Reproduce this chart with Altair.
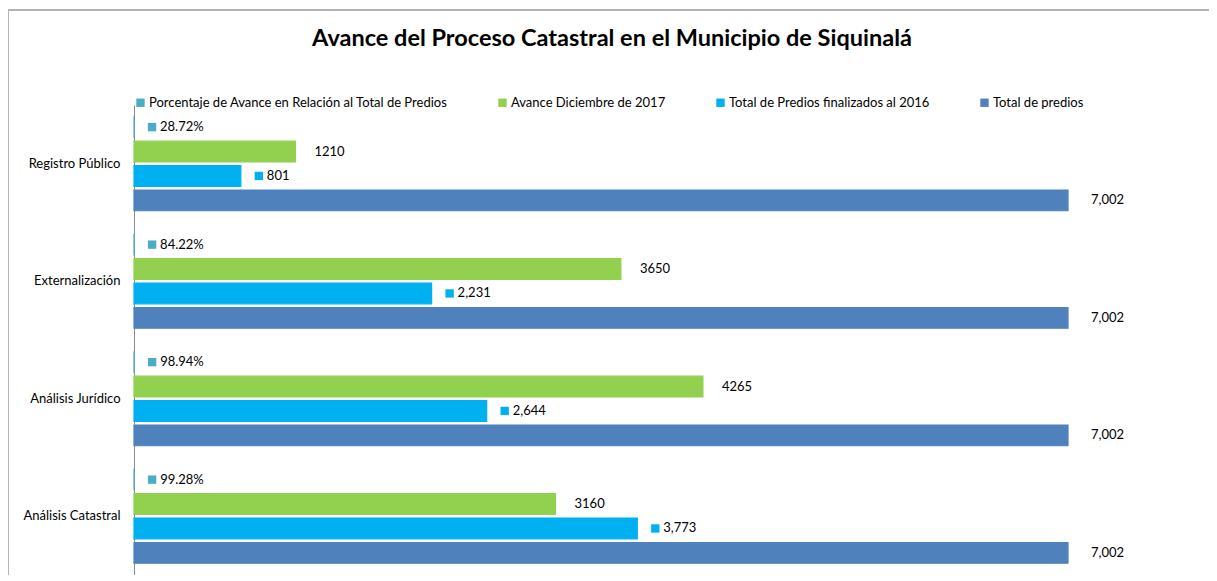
import altair as alt
import pandas as pd

categories = ["Registro Público", "Externalización", "Análisis Jurídico", "Análisis Catastral"]
series_names = [
    "Porcentaje de Avance en Relación al Total de Predios",
    "Avance Diciembre de 2017",
    "Total de Predios finalizados al 2016",
    "Total de predios",
]
series_colors = ["#4BACC6", "#92D050", "#00B0F0", "#4F81BD"]

pct_avance = [0.2872, 0.8422, 0.9894, 0.9928]
avance_2017 = [1210, 3650, 4265, 3160]
finalizados_2016 = [801, 2231, 2644, 3773]
total_predios = [7002, 7002, 7002, 7002]

rows = []
for i, c in enumerate(categories):
    rows.append(dict(cat=c, serie=series_names[0], order=0, value=pct_avance[i], label=f"{pct_avance[i]*100:.2f}%", kind="marker"))
    rows.append(dict(cat=c, serie=series_names[1], order=1, value=avance_2017[i], label=f"{avance_2017[i]}", kind="green"))
    rows.append(dict(cat=c, serie=series_names[2], order=2, value=finalizados_2016[i], label=f"{finalizados_2016[i]:,}", kind="marker"))
    rows.append(dict(cat=c, serie=series_names[3], order=3, value=total_predios[i], label=f"{total_predios[i]:,}", kind="blue"))
df = pd.DataFrame(rows)

FONT = "Lato"
FS = 13

y_enc = alt.Y("cat:N", sort=categories, title=None,
              scale=alt.Scale(paddingInner=0.2, paddingOuter=0.1),
              axis=alt.Axis(ticks=False, labelPadding=14, labelFontSize=FS, labelFont=FONT,
                            labelColor="#000000", domainColor="#8c8c8c", labelLimit=300))
yoff = alt.YOffset("serie:N", sort=series_names, scale=alt.Scale(paddingInner=0.15, paddingOuter=0.0))
x_enc = alt.X("value:Q", title=None, scale=alt.Scale(domain=[0, 7002], nice=False, zero=True),
              axis=None)
color_scale = alt.Scale(domain=series_names, range=series_colors)

bars = alt.Chart(df).mark_bar(strokeWidth=1.2).encode(
    x=x_enc, y=y_enc, yOffset=yoff,
    color=alt.Color("serie:N", scale=color_scale, sort=series_names, title=None,
                    legend=alt.Legend(orient="none", legendX=0, legendY=-9, direction="horizontal",
                                      symbolType="square", symbolSize=70, symbolStrokeWidth=0,
                                      labelFont=FONT, labelFontSize=FS, labelColor="#000000",
                                      labelLimit=500, columnPadding=48, labelOffset=2,
                                      symbolOffset=0)),
    stroke=alt.Stroke("serie:N", scale=color_scale, legend=None),
)

base = alt.Chart(df)

markers = base.transform_filter(alt.datum.kind == "marker").mark_square(
    size=70, xOffset=18, opacity=1, filled=True
).encode(x=x_enc, y=y_enc, yOffset=yoff,
         color=alt.Color("serie:N", scale=color_scale, legend=None))

txt_marker = base.transform_filter(alt.datum.kind == "marker").mark_text(
    align="left", baseline="middle", dx=26, font=FONT, fontSize=FS, color="#000000"
).encode(x=x_enc, y=y_enc, yOffset=yoff, text="label:N")

txt_green = base.transform_filter(alt.datum.kind == "green").mark_text(
    align="left", baseline="middle", dx=19, font=FONT, fontSize=FS, color="#000000"
).encode(x=x_enc, y=y_enc, yOffset=yoff, text="label:N")

txt_blue = base.transform_filter(alt.datum.kind == "blue").mark_text(
    align="left", baseline="middle", dx=23, font=FONT, fontSize=FS, color="#000000"
).encode(x=x_enc, y=y_enc, yOffset=yoff, text="label:N")

# chart frame (outer border, top and left edges visible)
frame_df = pd.DataFrame({"f": [0]})
frame_left = alt.Chart(frame_df).mark_rule(color="#b4b4b4", strokeWidth=2).encode(
    x=alt.value(-126), y=alt.value(-96), y2=alt.value(480))
frame_top = alt.Chart(frame_df).mark_rule(color="#b4b4b4", strokeWidth=2).encode(
    x=alt.value(-127), x2=alt.value(1090), y=alt.value(-95))

chart = alt.layer(frame_left, frame_top, bars, markers, txt_marker, txt_green, txt_blue).properties(
    width=934, height=470,
    title=alt.TitleParams("Avance del Proceso Catastral en el Municipio de Siquinalá",
                          font=FONT, fontSize=23.5, fontWeight="bold", color="#000000",
                          anchor="middle", frame="group", dx=11, offset=-42),
    autosize=alt.AutoSizeParams(type="none"),
    padding={"left": 126, "top": 97, "right": 141, "bottom": 0},
    background="white",
).configure_view(stroke=None)

chart.save("out.html", embed_options={"renderer": "svg", "actions": False})
